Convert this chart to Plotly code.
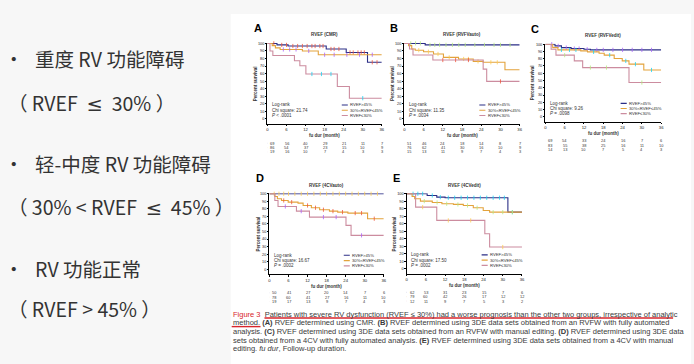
import plotly.graph_objects as go

# ------------------------------------------------------------------ data
months_ticks = [0, 6, 12, 18, 24, 30, 36]
survival_ticks = [0, 10, 20, 30, 40, 50, 60, 70, 80, 90, 100]
group_names = ["RVEF&gt;45%", "30%&lt;RVEF≤45%", "RVEF≤30%"]
panel_ids = ["A", "B", "C", "D", "E"]
panel_titles = ["RVEF (CMR)", "RVEF (RVFVauto)", "RVEF (RVFVedit)", "RVEF (4CVauto)", "RVEF (4CVedit)"]
chi_square = ["21.74", "11.35", "9.26", "16.67", "17.50"]
p_values = ["&lt; .0001", "= .0034", "= .0098", "= .0002", "= .0002"]

# Kaplan-Meier step vertices (month, percent survival)
A_high_t = [0, 3, 6.5, 18.5, 24.8, 31.5, 36]
A_high_s = [100, 98, 96.5, 92.6, 88, 75, 75]
A_mid_t = [0, 1.5, 2.5, 4, 11, 16, 36]
A_mid_s = [100, 97, 94, 92, 90, 85, 85]
A_low_t = [0, 0.8, 1.7, 8.5, 10.2, 12.1, 22, 25.8, 36]
A_low_s = [100, 90, 84, 77, 70.5, 59.5, 43, 27.5, 27.5]

B_high_t = [0, 6.5, 36]
B_high_s = [100, 98, 98]
B_mid_t = [0, 1.3, 2.3, 3.4, 6, 9.1, 12.2, 16.9, 21.5, 24.6, 31.4, 36]
B_mid_s = [100, 97, 92.6, 91, 89, 86, 81.5, 79.4, 76.2, 75, 65.2, 65.2]
B_low_t = [0, 1.6, 2.7, 8.9, 24.6, 25.7, 36]
B_low_s = [100, 92.6, 84.7, 78, 66, 49.7, 49.7]

C_high_t = [0, 3, 5, 8, 12, 14, 36]
C_high_s = [100, 97.7, 95.3, 94, 93, 92.2, 92.2]
C_mid_t = [0, 2.3, 3.9, 11, 13.1, 16.7, 18.3, 21.4, 23.9, 26, 30.6, 36]
C_mid_s = [100, 95.3, 92.2, 90.8, 89.4, 87.6, 84.9, 80.2, 77, 72.5, 64.5, 64.5]
C_low_t = [0, 1.8, 3.3, 9, 11.6, 26, 36]
C_low_s = [100, 93.1, 84.9, 77, 67.8, 47.2, 47.2]

D_high_t = [0, 36]
D_high_s = [100, 100]
D_mid_t = [0, 1.7, 2.5, 3.8, 5.9, 9, 10.6, 13.2, 15.8, 18.9, 21.5, 24.7, 30.9, 36]
D_mid_s = [100, 96.4, 93.4, 91.1, 88.9, 87.6, 84.5, 81.5, 78.9, 77, 75.7, 74.4, 67, 67]
D_low_t = [0, 1.7, 2.7, 8.5, 12.6, 24.1, 25.7, 36]
D_low_s = [100, 91.1, 83.2, 77, 69.1, 58.1, 44.9, 44.9]

E_high_t = [0, 6.4, 9.4, 12, 31.6, 36]
E_high_s = [100, 97.7, 95.5, 94.7, 75.5, 75.5]
E_mid_t = [0, 1.7, 2.5, 4.3, 8, 11, 14.6, 17.7, 20.8, 23.9, 25.9, 36]
E_mid_s = [100, 96.4, 93.4, 90.2, 88.4, 86.7, 85.8, 84.4, 81.4, 77.8, 75.5, 75.5]
E_low_t = [0, 2.8, 9.4, 24.4, 25.9, 36]
E_low_s = [100, 82.2, 64.5, 46.8, 29, 29]

# censored observations (months) seen as tick marks on the curves
A_high_c = [2, 4.5, 6, 8, 9.5, 11, 12.5, 14, 15, 16.5, 17.5, 20, 21, 22.5, 26, 27, 28.5, 29.5, 30.5, 33, 34.5]
A_mid_c = [5, 7, 9, 13, 18, 21, 25, 29, 33]
A_low_c = [14, 17, 20, 30]
B_high_c = [2, 3.5, 5, 8, 9.5, 11, 13, 15, 17, 19, 22, 25, 28, 30, 33]
B_mid_c = [4.5, 7.5, 10.5, 14, 18.5, 20, 23, 27, 29]
B_low_c = [12, 16, 20, 30]
C_high_c = [2, 4, 6.5, 9, 10.5, 13, 16, 18, 21, 24, 27, 30, 33]
C_mid_c = [5, 7.5, 9.5, 15, 20, 25, 28, 33]
C_low_c = [6, 14, 19, 30]
D_high_c = [1.5, 3, 4.5, 6, 8, 10, 12, 14, 16, 18, 20, 22, 24, 26, 28, 30, 32, 34]
D_mid_c = [4.5, 7, 12, 14.5, 17, 20, 23, 27, 29, 33]
D_low_c = [5, 10, 17, 21, 29]
E_high_c = [2, 3.5, 5, 8, 10.5, 13, 15, 17, 19, 21, 23, 25, 27, 29, 30.5, 33]
E_mid_c = [5.5, 9.5, 12.5, 16, 19, 22, 27, 30, 33]
E_low_c = [5, 13, 20, 30]

# numbers at risk at months_ticks
A_risk_high = [69, 56, 40, 29, 21, 11, 7]
A_risk_mid = [86, 54, 37, 23, 15, 10, 9]
A_risk_low = [19, 16, 10, 7, 4, 3, 3]
B_risk_high = [51, 46, 24, 18, 14, 8, 7]
B_risk_mid = [76, 62, 41, 30, 16, 10, 9]
B_risk_low = [15, 13, 11, 9, 7, 4, 3]
C_risk_high = [69, 54, 33, 24, 16, 7, 6]
C_risk_mid = [83, 55, 38, 25, 16, 11, 10]
C_risk_low = [14, 13, 10, 7, 5, 4, 3]
D_risk_high = [50, 41, 27, 20, 14, 7, 6]
D_risk_mid = [78, 60, 41, 27, 16, 11, 10]
D_risk_low = [19, 17, 13, 9, 7, 4, 3]
E_risk_high = [62, 53, 31, 23, 15, 7, 6]
E_risk_mid = [79, 60, 42, 26, 17, 12, 12]
E_risk_low = [12, 11, 9, 7, 5, 3, 2]

LE = "<span style='font-family:DejaVu Sans'>≤</span>"
slide_lines = ["重度 RV 功能障碍", "（ RVEF\u00a0 " + LE + " \u00a030% ）", "轻-中度 RV 功能障碍",
               "（ 30% &lt; RVEF\u00a0 " + LE + " \u00a045% ）", "RV 功能正常", "（ RVEF &gt; 45% ）"]

caption_lines = [
    "<span style='color:#d8262c'>Figure 3</span>  Patients with severe RV dysfunction (RVEF ≤ 30%) had a worse prognosis than the other two groups, irrespective of analytic",
    "method. <b>(A)</b> RVEF determined using CMR. <b>(B)</b> RVEF determined using 3DE data sets obtained from an RVFW with fully automated",
    "analysis. <b>(C)</b> RVEF determined using 3DE data sets obtained from an RVFW with manual editing. <b>(D)</b> RVEF determined using 3DE data",
    "sets obtained from a 4CV with fully automated analysis. <b>(E)</b> RVEF determined using 3DE data sets obtained from a 4CV with manual",
    "editing. <i>fu dur</i>, Follow-up duration.",
]

curves = {
    "A": [(A_high_t, A_high_s, A_high_c), (A_mid_t, A_mid_s, A_mid_c), (A_low_t, A_low_s, A_low_c)],
    "B": [(B_high_t, B_high_s, B_high_c), (B_mid_t, B_mid_s, B_mid_c), (B_low_t, B_low_s, B_low_c)],
    "C": [(C_high_t, C_high_s, C_high_c), (C_mid_t, C_mid_s, C_mid_c), (C_low_t, C_low_s, C_low_c)],
    "D": [(D_high_t, D_high_s, D_high_c), (D_mid_t, D_mid_s, D_mid_c), (D_low_t, D_low_s, D_low_c)],
    "E": [(E_high_t, E_high_s, E_high_c), (E_mid_t, E_mid_s, E_mid_c), (E_low_t, E_low_s, E_low_c)],
}
risks = {
    "A": [A_risk_high, A_risk_mid, A_risk_low],
    "B": [B_risk_high, B_risk_mid, B_risk_low],
    "C": [C_risk_high, C_risk_mid, C_risk_low],
    "D": [D_risk_high, D_risk_mid, D_risk_low],
    "E": [E_risk_high, E_risk_mid, E_risk_low],
}

# ------------------------------------------------------------------ style / layout
W, H = 694, 364
COLORS = ["#2b2e86", "#e3a33c", "#cc8c9f"]
FONT = "Liberation Sans, Arial, sans-serif"
CJK = "Noto Sans CJK SC, sans-serif"
TXT = "#333333"
YR = [-6.6, 100.6]
# pixel geometry: x at month 0, x at month 36, y at 100 %, y of x-axis line
GEOM = {
    "A": (268, 383, 42.5, 123.3),
    "B": (405.7, 521.7, 42.5, 123.3),
    "C": (547.5, 664, 43.3, 121.0),
    "D": (270, 385, 193.3, 274.0),
    "E": (408, 524, 193.3, 273.5),
}


def fx(px):
    return px / W


def fy(py):
    return 1 - py / H


def step_value(t, s, x):
    v = s[0]
    for ti, si in zip(t, s):
        if ti <= x:
            v = si
    return v


def ann(text, x, y, xref="paper", yref="paper", size=4.5, xanchor="center", family=FONT, color=TXT, **kw):
    d = dict(text=text, x=x, y=y, xref=xref, yref=yref, xanchor=xanchor, yanchor="middle",
             showarrow=False, font=dict(size=size, family=family, color=color), borderpad=0)
    d.update(kw)
    return d


fig = go.Figure()
annotations = []
shapes = []

# white figure box
shapes.append(dict(type="rect", xref="paper", yref="paper", x0=fx(231), x1=1.0, y0=0, y1=fy(13),
                   fillcolor="white", line=dict(width=0), layer="below"))

for i, pid in enumerate(panel_ids, start=1):
    x0, x1, y100, yax = GEOM[pid]
    k = (yax - y100) / (100 - YR[0])
    ytop = y100 - (YR[1] - 100) * k
    xa, ya = f"x{i}", f"y{i}"
    fig.layout[f"xaxis{i}"] = dict(
        domain=[fx(x0), fx(x1)], range=[0, 36], anchor=ya, tickvals=months_ticks,
        ticks="outside", ticklen=1.5, tickwidth=0.6, tickcolor="black",
        showline=True, linecolor="black", linewidth=0.7, showgrid=False, zeroline=False,
        tickfont=dict(size=4.2, family=FONT, color="#222"), fixedrange=True)
    fig.layout[f"yaxis{i}"] = dict(
        domain=[fy(yax), fy(ytop)], range=YR, anchor=xa, tickvals=survival_ticks,
        ticks="outside", ticklen=1.5, tickwidth=0.6, tickcolor="black",
        showline=True, linecolor="black", linewidth=0.7, showgrid=False, zeroline=False,
        tickfont=dict(size=3.8, family=FONT, color="#222"), fixedrange=True)

    for g, (t, s, c) in enumerate(curves[pid]):
        fig.add_trace(go.Scatter(x=t, y=s, xaxis=xa, yaxis=ya, mode="lines",
                                 line=dict(shape="hv", color=COLORS[g], width=1.1),
                                 showlegend=False, hoverinfo="skip", cliponaxis=False))
        fig.add_trace(go.Scatter(x=c, y=[step_value(t, s, v) for v in c], xaxis=xa, yaxis=ya,
                                 mode="markers", marker=dict(symbol="line-ns-open", size=3,
                                                             line=dict(color=COLORS[g], width=0.8)),
                                 showlegend=False, hoverinfo="skip", cliponaxis=False))

    # panel letter and title
    annotations.append(ann(f"<b>{pid}</b>", fx(x0 - 10), fy(y100 - 15.5), size=11, color="black"))
    annotations.append(ann(f"<b>{panel_titles[i-1]}</b>", fx((x0 + x1) / 2), fy(y100 - 8.5), size=4.5))
    annotations.append(ann("<b>Percent survival</b>", fx(x0 - 12), fy((y100 + yax) / 2), textangle=-90))
    annotations.append(ann("<b>fu dur (month)</b>", 18, fy(yax + 12), xref=xa))
    annotations.append(ann("Number at risk", -1.2, fy(yax + 13.5), xref=xa, xanchor="left"))
    # stats text
    stats = ["Log-rank", f"Chi square: {chi_square[i-1]}", f"<i>P</i> {p_values[i-1]}"]
    for txt, yy in zip(stats, [18.5, 11.5, 4.5]):
        annotations.append(ann(txt, 1.2, yy, xref=xa, yref=ya, xanchor="left"))
    # legend
    for g, yy in enumerate([18.5, 11.5, 4.5]):
        shapes.append(dict(type="line", xref=xa, yref=ya, x0=23.4, x1=25.3, y0=yy, y1=yy,
                           line=dict(color=COLORS[g], width=1.1)))
        annotations.append(ann(group_names[g], 25.7, yy, xref=xa, yref=ya, xanchor="left", size=4.2))
    # numbers at risk
    rows_px = [yax + 19.3, yax + 23.7, yax + 28.1] if i <= 3 else [yax + 18.6, yax + 23.0, yax + 27.4]
    for g, rpx in enumerate(rows_px):
        shapes.append(dict(type="line", xref=xa, yref="paper", x0=-1.4, x1=-0.1, y0=fy(rpx), y1=fy(rpx),
                           line=dict(color=COLORS[g], width=1.0)))
        for j, (m, n) in enumerate(zip(months_ticks, risks[pid][g])):
            annotations.append(ann(str(n), m, fy(rpx), xref=xa, xshift=5 if j == 0 else 0, size=3.9))

# slide text (left)
slide_y = [58, 101.5, 163, 206.5, 268, 308]
for n, (txt, yy) in enumerate(zip(slide_lines, slide_y)):
    bullet = n % 2 == 0
    if bullet:
        annotations.append(ann("•", fx(13.5), fy(yy), size=19.5, family=CJK))
    annotations.append(ann(txt, fx(33 if bullet else 6), fy(yy), size=19.5, family=CJK, xanchor="left",
                           align="left"))

# caption
for n, txt in enumerate(caption_lines):
    annotations.append(ann(txt, fx(232), fy(314 + n * 8.7), size=7.5, xanchor="left", align="left",
                           color="#3a3a3a"))
shapes.append(dict(type="line", xref="paper", yref="paper", x0=fx(265), x1=fx(676), y0=fy(317.8), y1=fy(317.8),
                   line=dict(color="#d8262c", width=1.4)))
shapes.append(dict(type="line", xref="paper", yref="paper", x0=fx(232), x1=fx(261), y0=fy(326.5), y1=fy(326.5),
                   line=dict(color="#d8262c", width=1.4)))

fig.update_layout(width=W, height=H, margin=dict(l=0, r=0, t=0, b=0),
                  paper_bgcolor="#f7f7f7", plot_bgcolor="rgba(0,0,0,0)",
                  annotations=annotations, shapes=shapes, showlegend=False)
fig.write_html("out.html", config={"displayModeBar": False},
               post_script="document.body.style.margin='0';document.body.style.overflow='hidden';")
